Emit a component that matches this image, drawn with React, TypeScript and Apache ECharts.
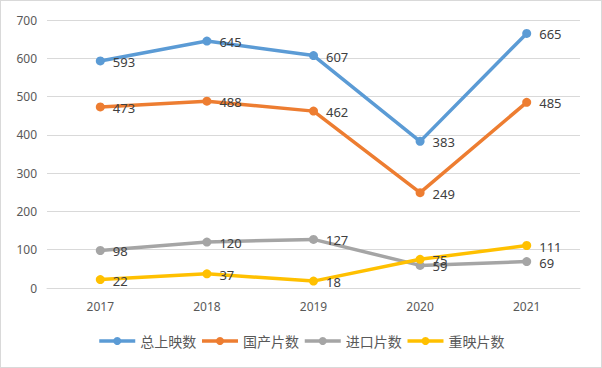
import React, { useEffect, useRef } from "react";
import * as echarts from "echarts";

const years = ["2017", "2018", "2019", "2020", "2021"];
const totalReleases = [593, 645, 607, 383, 665];
const domestic = [473, 488, 462, 249, 485];
const imported = [98, 120, 127, 59, 69];
const rereleases = [22, 37, 18, 75, 111];
const seriesNames = ["总上映数", "国产片数", "进口片数", "重映片数"];
const colors = ["#5B9BD5", "#ED7D31", "#A5A5A5", "#FFC000"];

export default function App() {
  const ref = useRef<HTMLDivElement>(null);
  useEffect(() => {
    document.body.style.margin = "0";
    const chart = echarts.init(ref.current!, null, { renderer: "svg" });
    const datas = [totalReleases, domestic, imported, rereleases];
    chart.setOption({
      animation: false,
      color: colors,
      grid: { left: 46, right: 21, top: 19, bottom: 79 },
      legend: {
        bottom: 14,
        left: "center",
        itemWidth: 36,
        itemHeight: 10,
        itemGap: 4,
        lineStyle: { width: 3.5 },
        textStyle: { fontSize: 14, color: "#595959", fontFamily: "Noto Sans CJK SC" },
        data: seriesNames,
      },
      xAxis: {
        type: "category",
        data: years,
        boundaryGap: true,
        axisLine: { show: true, lineStyle: { color: "#D9D9D9" } },
        axisTick: { show: false },
        axisLabel: { color: "#595959", fontSize: 12, margin: 12, fontFamily: "Noto Sans" },
      },
      yAxis: {
        type: "value",
        min: 0,
        max: 700,
        interval: 100,
        axisLine: { show: false },
        axisTick: { show: false },
        axisLabel: { color: "#595959", fontSize: 12, margin: 10, fontFamily: "Noto Sans" },
        splitLine: { lineStyle: { color: "#D9D9D9" } },
      },
      series: seriesNames.map((name, i) => ({
        name,
        type: "line",
        data: datas[i],
        symbol: "circle",
        symbolSize: 9,
        lineStyle: { width: 3.5 },
        label: {
          show: true,
          position: "right",
          distance: 8,
          offset: [0, 1],
          color: "#404040",
          fontSize: 13,
          fontFamily: "Noto Sans",
        },
      })),
    });
    return () => chart.dispose();
  }, []);
  return (
    <div
      ref={ref}
      style={{ width: 600, height: 366, border: "1px solid #D9D9D9" }}
    />
  );
}
